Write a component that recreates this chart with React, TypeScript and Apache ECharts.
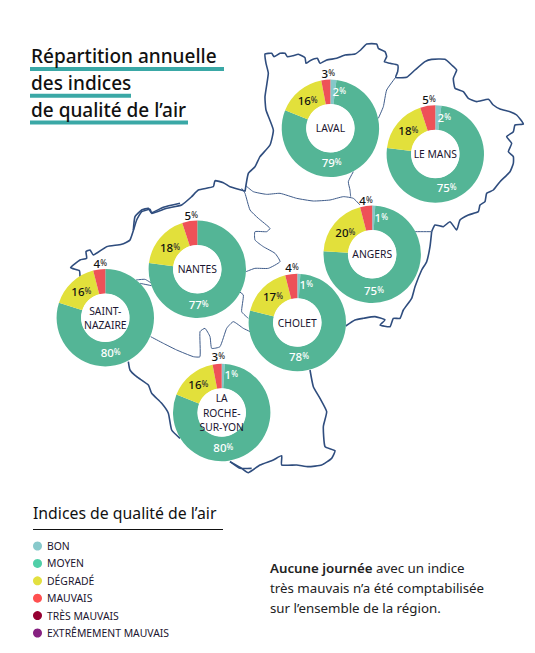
import React, { useEffect, useRef } from "react";
import * as echarts from "echarts";

const FONT = "'Noto Sans', sans-serif";
const INK = "#1b1530";

const categories = ["BON", "MOYEN", "DÉGRADÉ", "MAUVAIS", "TRÈS MAUVAIS", "EXTRÊMEMENT MAUVAIS"];
const sliceColors = ["#85c8c9", "#54b596", "#e2e03b", "#ee5158", "#960032", "#872181"];
const legendColors = ["#88c9cb", "#50cfa8", "#e3e040", "#ff5050", "#960032", "#872181"];

const cities = ["LAVAL", "LE MANS", "ANGERS", "CHOLET", "NANTES", "SAINT-\nNAZAIRE", "LA\nROCHE-\nSUR-YON"];
const laval = [2, 79, 16, 3, 0, 0];
const leMans = [2, 75, 18, 5, 0, 0];
const angers = [1, 75, 20, 4, 0, 0];
const cholet = [1, 78, 17, 4, 0, 0];
const nantes = [0, 77, 18, 5, 0, 0];
const saintNazaire = [0, 80, 16, 4, 0, 0];
const rocheSurYon = [1, 80, 16, 3, 0, 0];
const cityValues = [laval, leMans, angers, cholet, nantes, saintNazaire, rocheSurYon];

const centers = [[330.4, 128.3], [435.3, 154], [372.2, 254.3], [297.3, 322.5], [197.3, 269.2], [105.3, 317.7], [221.7, 412.5]];
const labelSpots = [
  [[339.3, 91.7], [331.7, 162.7], [307.7, 100.7], [328.3, 73.3]],
  [[444.3, 117.7], [446.7, 187.7], [408.3, 130], [429, 99]],
  [[381.3, 217], [374, 290.7], [345.3, 232], [366, 200.7]],
  [[306.3, 284.3], [299, 356.7], [273, 296.7], [292, 267.7]],
  [[0, 0], [198.7, 304.7], [170, 247], [191.3, 215]],
  [[0, 0], [110.7, 352.7], [81.3, 291.7], [100.3, 263.3]],
  [[231.3, 374.7], [223.3, 447.7], [198.3, 384], [218.3, 356.7]],
];

const from = (ox: number, oy: number, list: number[][]) => list.map(([x, y]) => [x / 3 + ox, y / 3 + oy]);

const outerLines = [
  from(230, 30, [[45, 485], [55, 430], [75, 410], [90, 380], [120, 345], [130, 300], [108, 240], [105, 200], [115, 130], [108, 100], [105, 72], [125, 70], [132, 80], [150, 70], [165, 70], [172, 80], [190, 77], [205, 73], [225, 83], [228, 100], [240, 92], [262, 85], [270, 100], [290, 90], [320, 85], [345, 75], [375, 72], [392, 60], [410, 42], [440, 42], [445, 55], [465, 65], [470, 80], [463, 95], [480, 100], [503, 105], [503, 125], [497, 142], [530, 142], [555, 120], [585, 95], [605, 88], [645, 88], [665, 105], [680, 120], [670, 145], [675, 175], [700, 185], [715, 205], [740, 215], [775, 208], [790, 225], [810, 237], [840, 245], [860, 255], [880, 282], [855, 285], [850, 305], [830, 320], [845, 340], [835, 365], [850, 380], [850, 400], [840, 425], [810, 455], [790, 480], [770, 490], [765, 515], [750, 525], [745, 545], [715, 555], [690, 570], [680, 600], [660, 575], [640, 590], [615, 585], [605, 605]]),
  from(230, 190, [[605, 125], [600, 170], [590, 215], [575, 240], [555, 290], [545, 325], [520, 360], [510, 385], [490, 385], [480, 410], [450, 405], [465, 390], [435, 380], [400, 385], [375, 390], [347, 408]]),
  from(230, 190, [[240, 540], [250, 590], [270, 625], [290, 665], [280, 710], [285, 770], [315, 782], [305, 805], [275, 825], [235, 830], [200, 825], [155, 825], [155, 797], [130, 810], [90, 825], [55, 848], [35, 835], [0, 815]]),
  from(30, 200, [[600, 785], [630, 805], [665, 805]]),
  from(30, 200, [[450, 715], [425, 690], [415, 640], [395, 610], [365, 580], [355, 555], [320, 530], [300, 510], [295, 485]]),
  from(30, 200, [[150, 230], [148, 212], [122, 203], [150, 180], [170, 175], [168, 155], [180, 150], [190, 165], [230, 140], [275, 133], [300, 120], [320, 60], [335, 35], [360, 28], [365, 38], [400, 22], [450, 10]]),
  from(0, 30, [[400, 600], [405, 560], [425, 540], [445, 535], [455, 550], [500, 535], [545, 525], [575, 500], [595, 480], [640, 470], [645, 452], [670, 458], [690, 470], [735, 483]]),
];

const innerLines = [
  from(230, 30, [[45, 465], [70, 485], [110, 493], [150, 490], [200, 505], [250, 513], [300, 510], [340, 500], [370, 505], [390, 525]]),
  from(230, 30, [[370, 425], [355, 455], [360, 480], [362, 500]]),
  from(230, 30, [[497, 142], [470, 180], [460, 230], [445, 265]]),
  from(230, 30, [[555, 605], [605, 605]]),
  from(230, 190, [[35, -5], [45, 10], [60, 60], [85, 85], [120, 115], [110, 125], [75, 125], [75, 150], [100, 170], [135, 190], [150, 215], [115, 235], [75, 235], [48, 245]]),
  from(230, 190, [[20, 300], [40, 315], [35, 365], [55, 385]]),
  from(30, 200, [[362, 410], [400, 430], [440, 450], [490, 470], [510, 470], [510, 395], [525, 385], [540, 410], [545, 445], [570, 440], [590, 385], [610, 365], [640, 385], [660, 395], [690, 420]]),
  from(30, 200, [[318, 240], [345, 238], [365, 250]]),
  from(30, 200, [[330, 250], [365, 257]]),
];

const titleLines = ["Répartition annuelle", "des indices", "de qualité de l’air"];
const titleBars = [194, 101, 158];
const noteLines = ["{b|Aucune journée} avec un indice", "très mauvais n’a été comptabilisée", "sur l’ensemble de la région."];

export default function App() {
  const ref = useRef<HTMLDivElement>(null);
  useEffect(() => {
    document.body.style.margin = "0";
    const chart = echarts.init(ref.current!, null, { renderer: "svg" });
    const series: any[] = [];
    cities.forEach((city, c) => {
      series.push({
        type: "pie",
        name: city,
        silent: true,
        z: 2,
        center: centers[c],
        radius: [24, 48.7],
        startAngle: 90,
        clockwise: true,
        minShowLabelAngle: 0,
        stillShowZeroSum: false,
        avoidLabelOverlap: false,
        data: cityValues[c].map((v, i) => ({
          value: v,
          name: categories[i],
          itemStyle: { color: sliceColors[i] },
          label: { show: v > 0 },
        })),
        label: {
          position: "inside",
          formatter: (p: any) => {
            const light = p.dataIndex < 2;
            return light ? `{nw|${p.value}}{pw|%}` : `{nb|${p.value}}{pb|%}`;
          },
          rich: {
            nw: { fontFamily: FONT, fontSize: 11.5, fontWeight: 500, color: "#fff" },
            pw: { fontFamily: FONT, fontSize: 8, fontWeight: 500, color: "#fff", padding: [0, 0, 2, 0] },
            nb: { fontFamily: FONT, fontSize: 11.5, fontWeight: 500, color: "#111" },
            pb: { fontFamily: FONT, fontSize: 8, fontWeight: 500, color: "#333", padding: [0, 0, 2, 0] },
          },
        },
        labelLine: { show: false },
        labelLayout: (p: any) => {
          const spot = labelSpots[c][p.dataIndex];
          return spot ? { x: spot[0], y: spot[1], align: "center", verticalAlign: "middle" } : {};
        },
      });
      series.push({
        type: "pie",
        name: city + " fond",
        silent: true,
        z: 3,
        center: centers[c],
        radius: [0, 24.3],
        startAngle: 90,
        data: [{ value: 1, name: city, itemStyle: { color: "#fff" } }],
        label: {
          show: true,
          position: "center",
          formatter: city,
          fontFamily: FONT,
          fontSize: 10.3,
          lineHeight: 14.3,
          color: INK,
        },
        labelLine: { show: false },
      });
    });

    const graphic: any[] = [];
    outerLines.forEach((points) =>
      graphic.push({
        type: "polyline",
        z: 0,
        silent: true,
        shape: { points, smooth: 0.15 },
        style: { stroke: "#2f4d7e", lineWidth: 1.6, fill: "none", lineJoin: "round" },
      })
    );
    innerLines.forEach((points) =>
      graphic.push({
        type: "polyline",
        z: 0,
        silent: true,
        shape: { points, smooth: 0.15 },
        style: { stroke: "#3f5c8a", lineWidth: 1, fill: "none", lineJoin: "round" },
      })
    );
    titleLines.forEach((t, i) => {
      graphic.push({
        type: "rect",
        z: 3,
        shape: { x: 30, y: 67 + i * 26.7, width: titleBars[i], height: 4 },
        style: { fill: "#3aa8a6" },
      });
      graphic.push({
        type: "text",
        z: 3,
        x: 31,
        y: 56 + i * 27,
        style: { text: t, fontFamily: FONT, fontSize: 19, fontWeight: 500, fill: "#111", verticalAlign: "middle" },
      });
    });
    graphic.push({
      type: "text",
      z: 3,
      x: 33,
      y: 513,
      style: { text: "Indices de qualité de l’air", fontFamily: FONT, fontSize: 15.8, fill: "#111", verticalAlign: "middle" },
    });
    graphic.push({
      type: "line",
      z: 3,
      shape: { x1: 33, y1: 529.5, x2: 223, y2: 529.5 },
      style: { stroke: "#111", lineWidth: 1 },
    });
    noteLines.forEach((t, i) =>
      graphic.push({
        type: "text",
        z: 3,
        x: 270,
        y: 568 + i * 20,
        style: {
          text: t,
          fontFamily: FONT,
          fontSize: 13.3,
          fill: "#222",
          verticalAlign: "middle",
          rich: { b: { fontFamily: FONT, fontSize: 13.3, fontWeight: 600, fill: "#222" } },
        },
      })
    );

    chart.setOption({
      animation: false,
      backgroundColor: "#fff",
      legend: {
        show: true,
        orient: "vertical",
        left: 33,
        top: 541,
        icon: "circle",
        itemWidth: 9,
        itemHeight: 9,
        itemGap: 7.4,
        selectedMode: false,
        padding: 0,
        data: categories.map((name, i) => ({ name, itemStyle: { color: legendColors[i] } })),
        textStyle: { fontFamily: FONT, fontSize: 10.4, color: INK, padding: [0, 0, 0, 0] },
      },
      series,
      graphic,
    });
    return () => chart.dispose();
  }, []);
  return <div ref={ref} style={{ width: 535, height: 653 }} />;
}
